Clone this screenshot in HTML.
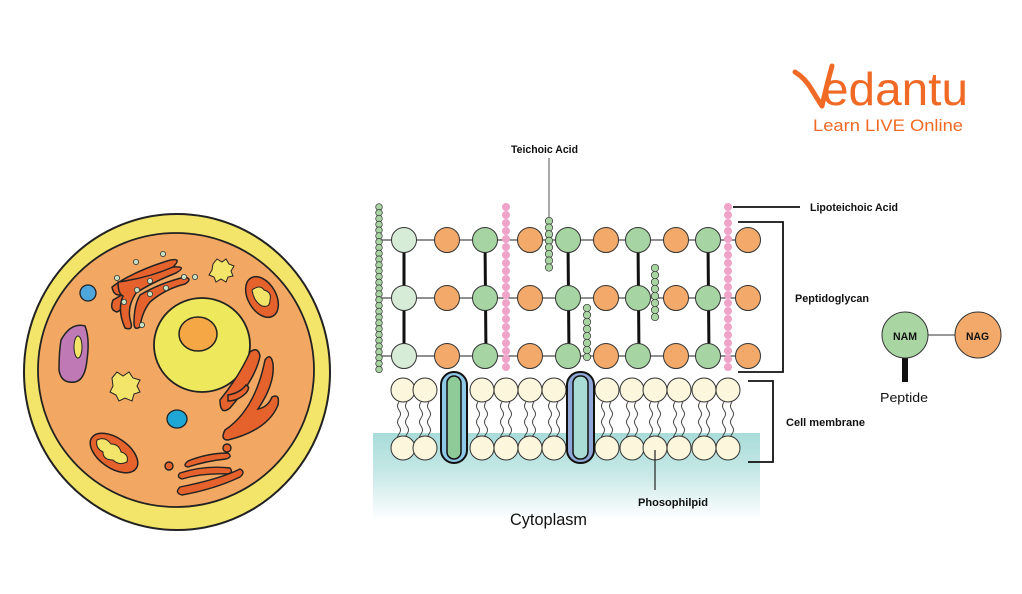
<!DOCTYPE html>
<html><head><meta charset="utf-8"><style>
html,body{margin:0;padding:0;background:#fff}
svg{display:block}
text{font-family:"Liberation Sans",sans-serif}
.lb{font-family:"Liberation Sans",sans-serif;font-weight:bold;font-size:11px;fill:#111}
</style></head><body>
<svg width="1022" height="594" viewBox="0 0 1022 594" xmlns="http://www.w3.org/2000/svg">
<defs>
<linearGradient id="cy" x1="0" y1="0" x2="0" y2="1"><stop offset="0" stop-color="#a8dcd9"/><stop offset="0.45" stop-color="#c6e8e6"/><stop offset="1" stop-color="#ffffff"/></linearGradient>
<g id="lip">
<path d="M-4,12 q-3,4 0,8 t0,8 t0,8 t0,8 t0,6 M4,12 q-3,4 0,8 t0,8 t0,8 t0,8 t0,6" fill="none" stroke="#333" stroke-width="0.9"/>
<circle cx="0" cy="0" r="12" fill="#fbf6dc" stroke="#333" stroke-width="1"/>
<circle cx="0" cy="58" r="12" fill="#fbf6dc" stroke="#333" stroke-width="1"/>
</g>
<circle id="g" r="3.3" fill="#a8d5a2" stroke="#333" stroke-width="0.7"/>
<circle id="t" r="3.7" fill="#a8d5a2" stroke="#333" stroke-width="0.7"/>
<circle id="p" r="4" fill="#f0a3c8"/>
</defs>

<!-- CELL -->
<ellipse cx="177" cy="372" rx="153" ry="158" fill="#f3e46a" stroke="#222" stroke-width="2"/>
<ellipse cx="176" cy="370" rx="138" ry="137" fill="#f2a863" stroke="#222" stroke-width="1.8"/>
<ellipse cx="202" cy="345" rx="48" ry="47" fill="#eee85c" stroke="#222" stroke-width="1.8"/>
<ellipse cx="198" cy="334" rx="19" ry="17" fill="#f5a745" stroke="#222" stroke-width="1.5"/>
<g fill="#e6622d" stroke="#222" stroke-width="1.5" stroke-linejoin="round">
<path d="M112,287 q20,-15 55,-26 q18,-5 4,8 q-30,8 -45,24 q-12,6 -14,-6z"/>
<path d="M113,300 q-4,10 4,12 q12,-6 10,-20 z"/>
<path d="M118,282 q30,-4 55,-15 q15,-1 3,6 q-25,10 -40,20 q-10,15 -5,30 q2,8 -6,5 q-8,-18 -2,-32 q-5,-2 -5,-14z"/>
<path d="M140,295 q20,-12 45,-18 q8,2 0,7 q-20,5 -35,18 q-8,10 -10,25 q-6,4 -6,-4 q0,-18 6,-28z"/>
</g>
<g fill="#c7e2c5" stroke="#333" stroke-width="0.8">
<circle cx="163" cy="254" r="2.6"/><circle cx="136" cy="262" r="2.6"/><circle cx="117" cy="278" r="2.6"/>
<circle cx="137" cy="290" r="2.6"/><circle cx="124" cy="302" r="2.6"/><circle cx="150" cy="281" r="2.6"/>
<circle cx="166" cy="288" r="2.6"/><circle cx="184" cy="277" r="2.6"/><circle cx="195" cy="277" r="2.6"/>
<circle cx="150" cy="294" r="2.6"/><circle cx="142" cy="325" r="2.6"/>
</g>
<g fill="#e6622d" stroke="#222" stroke-width="1.5">
<path d="M220,400 q20,-25 30,-48 q8,-6 10,4 q-4,22 -30,52 q-10,8 -10,-8z"/>
<path d="M225,430 q30,-20 40,-70 q6,-8 8,4 q2,20 -15,45 q10,-2 14,-12 q8,-4 6,8 q-10,25 -50,35 q-8,0 -3,-10z"/>
<path d="M228,395 q12,-2 18,-10 q5,2 0,8 q-8,8 -18,8z"/>
</g>
<g fill="#e6622d" stroke="#222" stroke-width="1.4">
<path d="M188,461 q20,-8 40,-8 q5,4 -2,6 q-20,2 -38,8 q-6,-1 0,-6z"/>
<path d="M180,473 q25,-8 50,-5 q4,5 -3,6 q-25,-1 -45,5 q-6,-2 -2,-6z"/>
<path d="M180,487 q40,-8 60,-18 q6,3 0,8 q-25,12 -58,18 q-8,-2 -2,-8z"/>
<circle cx="169" cy="466" r="4"/><circle cx="227" cy="448" r="4"/>
</g>
<g stroke="#222" stroke-width="1.5">
<ellipse cx="262" cy="297" rx="14" ry="22" transform="rotate(-30 262 297)" fill="#e6622d"/>
<path d="M252,290 q8,-6 12,0 q8,2 6,10 q0,8 -8,6 q-8,-4 -10,-16z" fill="#f3e46a" stroke-width="1"/>
<ellipse cx="114" cy="453" rx="15" ry="27" transform="rotate(-55 114 453)" fill="#e6622d"/>
<path d="M97,440 q8,-4 14,4 q8,0 10,8 q8,2 6,10 q-8,4 -14,-2 q-10,0 -10,-8 q-8,-4 -6,-12z" fill="#f3e46a" stroke-width="1"/>
</g>
<path d="M61,340 q10,-18 24,-14 q5,12 2,34 q-2,20 -12,22 q-14,2 -16,-12 q0,-18 2,-30z" fill="#bf7ab5" stroke="#222" stroke-width="1.5"/>
<ellipse cx="78" cy="347" rx="4" ry="11" fill="#f3e46a" stroke="#222" stroke-width="1"/>
<ellipse cx="88" cy="293" rx="8" ry="8" fill="#4fa6dc" stroke="#222" stroke-width="1.3"/>
<ellipse cx="177" cy="419" rx="10" ry="9" fill="#1ea6d4" stroke="#222" stroke-width="1.3"/>
<path d="M213,264 l4,-5 l5,3 l4,-3 l3,5 l5,2 l-3,5 l2,5 l-5,1 l-2,5 l-5,-3 l-5,3 l-2,-5 l-5,-2 l3,-5z" fill="#f3e46a" stroke="#222" stroke-width="1"/>
<path d="M112,378 l5,-6 l6,4 l6,-4 l4,6 l7,2 l-3,6 l3,6 l-6,2 l-2,7 l-7,-3 l-6,3 l-3,-6 l-6,-3 l3,-6z" fill="#f3e46a" stroke="#222" stroke-width="1"/>

<!-- CYTOPLASM -->
<rect x="373" y="433" width="387" height="87" fill="url(#cy)"/>

<g stroke="#222" stroke-width="1.1">
<line x1="380" y1="240" x2="735" y2="240"/><line x1="380" y1="298" x2="735" y2="298"/><line x1="380" y1="356" x2="735" y2="356"/>
</g>
<g stroke="#111" stroke-width="3">
<line x1="404" y1="240" x2="404" y2="356"/><line x1="485" y1="240" x2="486" y2="356"/><line x1="568" y1="240" x2="569" y2="356"/><line x1="638" y1="240" x2="639" y2="356"/><line x1="708" y1="240" x2="709" y2="356"/>
</g>
<g stroke="#333" stroke-width="1">
<g fill="#d7ecd6"><circle cx="404" cy="240" r="12.5"/><circle cx="404" cy="298" r="12.5"/><circle cx="404" cy="356" r="12.5"/></g>
<g fill="#a6d4a3">
<circle cx="485" cy="240" r="12.5"/><circle cx="485" cy="298" r="12.5"/><circle cx="485" cy="356" r="12.5"/>
<circle cx="568" cy="240" r="12.5"/><circle cx="568" cy="298" r="12.5"/><circle cx="568" cy="356" r="12.5"/>
<circle cx="638" cy="240" r="12.5"/><circle cx="638" cy="298" r="12.5"/><circle cx="638" cy="356" r="12.5"/>
<circle cx="708" cy="240" r="12.5"/><circle cx="708" cy="298" r="12.5"/><circle cx="708" cy="356" r="12.5"/>
</g>
<g fill="#f3a96a">
<circle cx="447" cy="240" r="12.5"/><circle cx="447" cy="298" r="12.5"/><circle cx="447" cy="356" r="12.5"/>
<circle cx="530" cy="240" r="12.5"/><circle cx="530" cy="298" r="12.5"/><circle cx="530" cy="356" r="12.5"/>
<circle cx="606" cy="240" r="12.5"/><circle cx="606" cy="298" r="12.5"/><circle cx="606" cy="356" r="12.5"/>
<circle cx="676" cy="240" r="12.5"/><circle cx="676" cy="298" r="12.5"/><circle cx="676" cy="356" r="12.5"/>
<circle cx="748" cy="240" r="12.5"/><circle cx="748" cy="298" r="12.5"/><circle cx="748" cy="356" r="12.5"/>
</g>
</g>

<!-- left chain -->
<g transform="translate(379,0)">
<use href="#g" y="207"/><use href="#g" y="212.8"/><use href="#g" y="218.6"/><use href="#g" y="224.4"/><use href="#g" y="230.2"/><use href="#g" y="236"/><use href="#g" y="241.8"/><use href="#g" y="247.6"/><use href="#g" y="253.4"/><use href="#g" y="259.2"/><use href="#g" y="265"/><use href="#g" y="270.8"/><use href="#g" y="276.6"/><use href="#g" y="282.4"/><use href="#g" y="288.2"/><use href="#g" y="294"/><use href="#g" y="299.8"/><use href="#g" y="305.6"/><use href="#g" y="311.4"/><use href="#g" y="317.2"/><use href="#g" y="323"/><use href="#g" y="328.8"/><use href="#g" y="334.6"/><use href="#g" y="340.4"/><use href="#g" y="346.2"/><use href="#g" y="352"/><use href="#g" y="357.8"/><use href="#g" y="363.6"/><use href="#g" y="369.4"/>
</g>
<line x1="549" y1="158" x2="549" y2="218" stroke="#555" stroke-width="1"/>
<g transform="translate(549,221)"><use href="#t" y="0"/><use href="#t" y="6.6"/><use href="#t" y="13.2"/><use href="#t" y="19.8"/><use href="#t" y="26.4"/><use href="#t" y="33"/><use href="#t" y="39.6"/><use href="#t" y="46.5"/></g>
<g transform="translate(655,268)"><use href="#t" y="0"/><use href="#t" y="7"/><use href="#t" y="14"/><use href="#t" y="21"/><use href="#t" y="28"/><use href="#t" y="35"/><use href="#t" y="42"/><use href="#t" y="49"/></g>
<g transform="translate(587,308)"><use href="#t" y="0"/><use href="#t" y="7"/><use href="#t" y="14"/><use href="#t" y="21"/><use href="#t" y="28"/><use href="#t" y="35"/><use href="#t" y="42"/><use href="#t" y="49"/></g>
<g id="pk" transform="translate(506,0)">
<use href="#p" y="207"/><use href="#p" y="215"/><use href="#p" y="223"/><use href="#p" y="231"/><use href="#p" y="239"/><use href="#p" y="247"/><use href="#p" y="255"/><use href="#p" y="263"/><use href="#p" y="271"/><use href="#p" y="279"/><use href="#p" y="287"/><use href="#p" y="295"/><use href="#p" y="303"/><use href="#p" y="311"/><use href="#p" y="319"/><use href="#p" y="327"/><use href="#p" y="335"/><use href="#p" y="343"/><use href="#p" y="351"/><use href="#p" y="359"/><use href="#p" y="367"/>
</g>
<use href="#pk" x="222"/>

<!-- membrane -->
<use href="#lip" x="403" y="390"/><use href="#lip" x="425" y="390"/>
<use href="#lip" x="482" y="390"/><use href="#lip" x="506" y="390"/><use href="#lip" x="530" y="390"/><use href="#lip" x="554" y="390"/>
<use href="#lip" x="607" y="390"/><use href="#lip" x="632" y="390"/><use href="#lip" x="655" y="390"/><use href="#lip" x="679" y="390"/><use href="#lip" x="704" y="390"/><use href="#lip" x="728" y="390"/>
<rect x="441" y="372" width="26" height="91" rx="13" fill="#8ec9e8" stroke="#111" stroke-width="2"/>
<rect x="447" y="376" width="14" height="83" rx="7" fill="#8fcb98" stroke="#111" stroke-width="1.5"/>
<rect x="567" y="372" width="27" height="91" rx="13" fill="#8ea7d6" stroke="#111" stroke-width="2"/>
<rect x="573" y="376" width="15" height="83" rx="7" fill="#a8dcd5" stroke="#111" stroke-width="1.5"/>
<line x1="655" y1="450" x2="655" y2="490" stroke="#222" stroke-width="1.2"/>

<g fill="none" stroke="#111" stroke-width="1.8">
<path d="M733,207 H800"/>
<path d="M738,222 H783 V372 H738"/>
<path d="M748,381 H773 V462 H748"/>
</g>

<text class="lb" x="511" y="153" textLength="67" lengthAdjust="spacingAndGlyphs">Teichoic Acid</text>
<text class="lb" x="810" y="211" textLength="88" lengthAdjust="spacingAndGlyphs">Lipoteichoic Acid</text>
<text class="lb" x="795" y="302" textLength="74" lengthAdjust="spacingAndGlyphs">Peptidoglycan</text>
<text class="lb" x="786" y="426" textLength="79" lengthAdjust="spacingAndGlyphs">Cell membrane</text>
<text class="lb" x="638" y="506" textLength="70" lengthAdjust="spacingAndGlyphs">Phosophilpid</text>
<text x="510" y="525" font-size="17" fill="#111" textLength="77" lengthAdjust="spacingAndGlyphs">Cytoplasm</text>

<line x1="928" y1="335" x2="955" y2="335" stroke="#333"/>
<rect x="902" y="358" width="6" height="24" fill="#111"/>
<circle cx="905" cy="335" r="23" fill="#a8d5a2" stroke="#333"/>
<circle cx="978" cy="335" r="23" fill="#f3a96a" stroke="#333"/>
<text class="lb" x="893" y="340" font-size="12" textLength="24" lengthAdjust="spacingAndGlyphs">NAM</text>
<text class="lb" x="966" y="340" font-size="12" textLength="23" lengthAdjust="spacingAndGlyphs">NAG</text>
<text x="880" y="402" font-size="13" fill="#111" textLength="48" lengthAdjust="spacingAndGlyphs">Peptide</text>

<!-- logo -->
<path d="M795,72 Q805,78 812,90 Q818,100 822,106 Q826,88 832,66" fill="none" stroke="#f06a25" stroke-width="5" stroke-linecap="round" stroke-linejoin="round"/>
<text x="822" y="105" font-size="46" fill="#f06a25" textLength="146" lengthAdjust="spacingAndGlyphs">edantu</text>
<text x="813" y="131" font-size="17" fill="#f06a25" textLength="150" lengthAdjust="spacingAndGlyphs">Learn LIVE Online</text>
</svg>
</body></html>
